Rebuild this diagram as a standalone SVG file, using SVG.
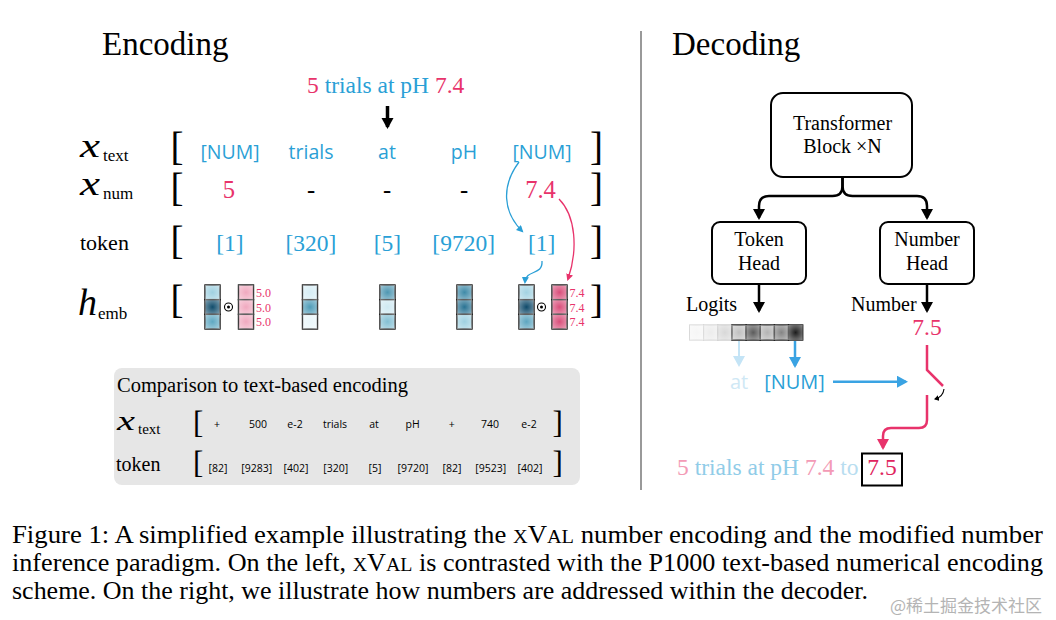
<svg xmlns="http://www.w3.org/2000/svg" width="1056" height="620" viewBox="0 0 1056 620" font-family="'Liberation Serif', 'Times New Roman', serif">
<style>
.f{font-family:"Liberation Serif","Times New Roman",serif}
.s{font-family:"Open Sans","DejaVu Sans",sans-serif}
.b{fill:#2a9fd6}
.p{fill:#e8336b}
.m{font-style:italic;font-family:"Liberation Serif","Times New Roman",serif}
.mid{text-anchor:middle}
.c{stroke:#111;stroke-width:1.4}
.g{fill:url(#gl);stroke:none}
.ln{fill:none}
.br{font-size:39px}
.bs{font-size:31px}
.tk{font-size:19.5px}
.tv{font-size:23.5px}
.xv{font-size:24.6px}
.e{font-size:12px;fill:#e8336b}
.sm{font-size:10.5px}
.box{fill:#fff;stroke:#000;stroke-width:2}
.cap{font-size:25px}
</style>
<defs>
<radialGradient id="gl" cx="0.5" cy="0.5" r="0.7">
<stop offset="0" stop-color="#fff" stop-opacity="0"/>
<stop offset="1" stop-color="#fff" stop-opacity="0.5"/>
</radialGradient>
<marker id="aK" markerUnits="userSpaceOnUse" markerWidth="14" markerHeight="14" refX="9" refY="6" orient="auto"><path d="M0,0 L11,6 L0,12 z" fill="#000"/></marker>
<marker id="aKs" markerUnits="userSpaceOnUse" markerWidth="8" markerHeight="8" refX="4" refY="3" orient="auto"><path d="M0,0 L5,3 L0,6 z" fill="#000"/></marker>
<marker id="aB" markerUnits="userSpaceOnUse" markerWidth="8" markerHeight="8" refX="5" refY="3.5" orient="auto"><path d="M0,0 L7,3.5 L0,7 z" fill="#2a9fd6"/></marker>
<marker id="aP" markerUnits="userSpaceOnUse" markerWidth="8" markerHeight="8" refX="5" refY="3.5" orient="auto"><path d="M0,0 L7,3.5 L0,7 z" fill="#e8336b"/></marker>
<marker id="aBd" markerUnits="userSpaceOnUse" markerWidth="14" markerHeight="14" refX="9" refY="6" orient="auto"><path d="M0,0 L11,6 L0,12 z" fill="#3aa3e3"/></marker>
<marker id="aBl" markerUnits="userSpaceOnUse" markerWidth="14" markerHeight="14" refX="9" refY="6" orient="auto"><path d="M0,0 L11,6 L0,12 z" fill="#c4e4f6"/></marker>
<marker id="aPd" markerUnits="userSpaceOnUse" markerWidth="14" markerHeight="14" refX="9" refY="6" orient="auto"><path d="M0,0 L11,6 L0,12 z" fill="#e8336b"/></marker>
</defs>
<rect width="1056" height="620" fill="#fff"/>

<line x1="641" y1="31" x2="641" y2="490" stroke="#777" stroke-width="1.5"/>

<g id="encoding">
<text x="102" y="55" font-size="33" class="f">Encoding</text>
<text x="307" y="93" font-size="23.5" class="f"><tspan class="p">5</tspan><tspan class="b"> trials at pH </tspan><tspan class="p">7.4</tspan></text>
</g>

<g id="labels">
<text x="80" y="157" class="m" font-size="34" textLength="20" lengthAdjust="spacingAndGlyphs">x</text><text x="103" y="161" font-size="17" class="f">text</text>
<text x="80" y="195" class="m" font-size="34" textLength="20" lengthAdjust="spacingAndGlyphs">x</text><text x="103" y="199" font-size="17" class="f">num</text>
<text x="80" y="250" font-size="22" class="f">token</text>
<text x="78" y="315" class="m" font-size="38">h</text><text x="98" y="319" font-size="17" class="f">emb</text>
</g>

<g id="brackets" class="f">
<text x="170.5" y="160" class="f br">[</text><text x="590" y="160" class="f br">]</text>
<text x="170.5" y="201" class="f br">[</text><text x="590" y="201" class="f br">]</text>
<text x="170.5" y="254" class="f br">[</text><text x="590" y="254" class="f br">]</text>
<text x="170.5" y="313" class="f br">[</text><text x="590" y="313" class="f br">]</text>
</g>

<g id="row-xtext">
<text x="230" y="158.5" class="s tk mid b">[NUM]</text>
<text x="311" y="158.5" class="s tk mid b">trials</text>
<text x="387" y="158.5" class="s tk mid b">at</text>
<text x="464" y="158.5" class="s tk mid b">pH</text>
<text x="542" y="158.5" class="s tk mid b">[NUM]</text>
</g>

<g id="row-xnum">
<text x="229" y="198" class="f xv mid p">5</text>
<text x="311" y="198" class="f xv mid">-</text>
<text x="387" y="198" class="f xv mid">-</text>
<text x="464" y="198" class="f xv mid">-</text>
<text x="540.5" y="198" class="f xv mid p">7.4</text>
</g>

<g id="row-token">
<text x="230" y="251" class="f tv mid b">[1]</text>
<text x="311" y="251" class="f tv mid b">[320]</text>
<text x="387.5" y="251" class="f tv mid b">[5]</text>
<text x="463.7" y="251" class="f tv mid b">[9720]</text>
<text x="541.6" y="251" class="f tv mid b">[1]</text>
</g>

<g id="row-hemb">
<rect x="205" y="285" width="15" height="14.67" fill="#9fd0e0" class="c"/>
<rect x="205" y="299.67" width="15" height="14.67" fill="#114d6c" class="c"/>
<rect x="205" y="314.33" width="15" height="14.67" fill="#5fa8c2" class="c"/>
<rect x="205" y="285" width="15" height="14.67" class="g"/>
<rect x="205" y="299.67" width="15" height="14.67" class="g"/>
<rect x="205" y="314.33" width="15" height="14.67" class="g"/>
<circle cx="228.5" cy="307" r="4" fill="none" stroke="#000" stroke-width="1.1"/><circle cx="228.5" cy="307" r="1.5" fill="#000"/>
<rect x="238.5" y="285" width="15" height="14.67" fill="#f0a9bf" class="c"/>
<rect x="238.5" y="299.67" width="15" height="14.67" fill="#f0a9bf" class="c"/>
<rect x="238.5" y="314.33" width="15" height="14.67" fill="#f0a9bf" class="c"/>
<rect x="238.5" y="285" width="15" height="14.67" class="g"/>
<rect x="238.5" y="299.67" width="15" height="14.67" class="g"/>
<rect x="238.5" y="314.33" width="15" height="14.67" class="g"/>
<text x="256" y="297" class="f e">5.0</text>
<text x="256" y="311.5" class="f e">5.0</text>
<text x="256" y="326" class="f e">5.0</text>

<rect x="302.5" y="285" width="15" height="14.67" fill="#d6edf5" class="c"/>
<rect x="302.5" y="299.67" width="15" height="14.67" fill="#4f9cb8" class="c"/>
<rect x="302.5" y="314.33" width="15" height="14.67" fill="#eaf6fa" class="c"/>
<rect x="302.5" y="285" width="15" height="14.67" class="g"/>
<rect x="302.5" y="299.67" width="15" height="14.67" class="g"/>
<rect x="302.5" y="314.33" width="15" height="14.67" class="g"/>

<rect x="380" y="285" width="15" height="14.67" fill="#4f97b2" class="c"/>
<rect x="380" y="299.67" width="15" height="14.67" fill="#cfe9f2" class="c"/>
<rect x="380" y="314.33" width="15" height="14.67" fill="#84c0d4" class="c"/>
<rect x="380" y="285" width="15" height="14.67" class="g"/>
<rect x="380" y="299.67" width="15" height="14.67" class="g"/>
<rect x="380" y="314.33" width="15" height="14.67" class="g"/>

<rect x="457" y="285" width="15" height="14.67" fill="#3f8aa8" class="c"/>
<rect x="457" y="299.67" width="15" height="14.67" fill="#2a7393" class="c"/>
<rect x="457" y="314.33" width="15" height="14.67" fill="#9fd1e1" class="c"/>
<rect x="457" y="285" width="15" height="14.67" class="g"/>
<rect x="457" y="299.67" width="15" height="14.67" class="g"/>
<rect x="457" y="314.33" width="15" height="14.67" class="g"/>

<rect x="519" y="285" width="15" height="14.67" fill="#a3d3e2" class="c"/>
<rect x="519" y="299.67" width="15" height="14.67" fill="#0f4a6a" class="c"/>
<rect x="519" y="314.33" width="15" height="14.67" fill="#5ea6c0" class="c"/>
<rect x="519" y="285" width="15" height="14.67" class="g"/>
<rect x="519" y="299.67" width="15" height="14.67" class="g"/>
<rect x="519" y="314.33" width="15" height="14.67" class="g"/>
<circle cx="541.5" cy="307" r="4" fill="none" stroke="#000" stroke-width="1.1"/><circle cx="541.5" cy="307" r="1.5" fill="#000"/>
<rect x="552" y="285" width="15" height="14.67" fill="#d94f7b" class="c"/>
<rect x="552" y="299.67" width="15" height="14.67" fill="#d94f7b" class="c"/>
<rect x="552" y="314.33" width="15" height="14.67" fill="#d94f7b" class="c"/>
<rect x="552" y="285" width="15" height="14.67" class="g"/>
<rect x="552" y="299.67" width="15" height="14.67" class="g"/>
<rect x="552" y="314.33" width="15" height="14.67" class="g"/>
<text x="569.5" y="297" class="f e">7.4</text>
<text x="569.5" y="311.5" class="f e">7.4</text>
<text x="569.5" y="326" class="f e">7.4</text>
</g>

<g id="comparison">
<rect x="114" y="368" width="466" height="117" rx="8" fill="#e6e6e6"/>
<text x="117" y="392" font-size="20.5" class="f">Comparison to text-based encoding</text>
<text x="117" y="430" class="m" font-size="28" textLength="18" lengthAdjust="spacingAndGlyphs">x</text><text x="138" y="434" font-size="15" class="f">text</text>
<text x="116" y="471" font-size="20" class="f">token</text>
<text x="193" y="433" class="f bs">[</text><text x="552.5" y="433" class="f bs">]</text>
<text x="193" y="473" class="f bs">[</text><text x="552.5" y="473" class="f bs">]</text>
<g>
<text x="217" y="428" class="s sm mid">+</text>
<text x="258" y="428" class="s sm mid">500</text>
<text x="295" y="428" class="s sm mid">e-2</text>
<text x="335" y="428" class="s sm mid">trials</text>
<text x="374" y="428" class="s sm mid">at</text>
<text x="412.7" y="428" class="s sm mid">pH</text>
<text x="451.7" y="428" class="s sm mid">+</text>
<text x="490" y="428" class="s sm mid">740</text>
<text x="529" y="428" class="s sm mid">e-2</text>
<text x="218" y="472" class="s sm mid">[82]</text>
<text x="256.7" y="472" class="s sm mid">[9283]</text>
<text x="296" y="472" class="s sm mid">[402]</text>
<text x="335.7" y="472" class="s sm mid">[320]</text>
<text x="375" y="472" class="s sm mid">[5]</text>
<text x="413" y="472" class="s sm mid">[9720]</text>
<text x="452" y="472" class="s sm mid">[82]</text>
<text x="490.7" y="472" class="s sm mid">[9523]</text>
<text x="530" y="472" class="s sm mid">[402]</text>
</g>
</g>

<g id="decoding-title"><text x="672" y="55" font-size="33" class="f">Decoding</text></g>

<g id="transformer">
<rect x="771" y="93" width="141" height="84" rx="12" class="box"/>
<text x="842.5" y="129.5" font-size="20" class="f mid">Transformer</text>
<text x="842.5" y="153" font-size="20" class="f mid">Block ×N</text>
</g>
<g id="token-head">
<rect x="712" y="222" width="94" height="62" rx="8" class="box"/>
<text x="759" y="246" font-size="20" class="f mid">Token</text>
<text x="759" y="270" font-size="20" class="f mid">Head</text>
</g>
<g id="number-head">
<rect x="880" y="222" width="94" height="62" rx="8" class="box"/>
<text x="927" y="246" font-size="20" class="f mid">Number</text>
<text x="927" y="270" font-size="20" class="f mid">Head</text>
</g>

<g id="logits">
<text x="686" y="311" font-size="20" class="f">Logits</text>
<rect x="689.5" y="325" width="14.15" height="15" fill="#f6f6f6" stroke="#d0d0d0" stroke-width="1"/>
<rect x="703.65" y="325" width="14.15" height="15" fill="#ececec" stroke="#c8c8c8" stroke-width="1"/>
<rect x="717.8" y="325" width="14.15" height="15" fill="#d8d8d8" stroke="#b8b8b8" stroke-width="1"/>
<rect x="731.95" y="325" width="14.15" height="15" fill="#c0c0c0" class="c"/>
<rect x="746.1" y="325" width="14.15" height="15" fill="#5c5c5c" class="c"/>
<rect x="760.25" y="325" width="14.15" height="15" fill="#b3b3b3" class="c"/>
<rect x="774.4" y="325" width="14.15" height="15" fill="#858585" class="c"/>
<rect x="788.55" y="325" width="14.15" height="15" fill="#1c1c1c" class="c"/>
<rect x="689.5" y="325" width="14.15" height="15" class="g"/>
<rect x="703.65" y="325" width="14.15" height="15" class="g"/>
<rect x="717.8" y="325" width="14.15" height="15" class="g"/>
<rect x="731.95" y="325" width="14.15" height="15" class="g"/>
<rect x="746.1" y="325" width="14.15" height="15" class="g"/>
<rect x="760.25" y="325" width="14.15" height="15" class="g"/>
<rect x="774.4" y="325" width="14.15" height="15" class="g"/>
<rect x="788.55" y="325" width="14.15" height="15" class="g"/>
</g>

<g id="number-out">
<text x="851" y="311" font-size="20" class="f">Number</text>
<text x="927" y="335" font-size="23.5" class="f mid p">7.5</text>
</g>

<g id="token-out">
<text x="739" y="388.5" class="s mid" font-size="20" fill="#cfe8f5">at</text>
<text x="794.5" y="388.5" class="s mid b" font-size="20">[NUM]</text>
</g>

<g id="result">
<text x="677" y="475" font-size="23.5" class="f"><tspan fill="#f39bb6">5</tspan><tspan fill="#90cce8"> trials at pH </tspan><tspan fill="#f39bb6">7.4</tspan><tspan fill="#b8ddf0"> to</tspan></text>
<rect x="862" y="453.5" width="40" height="32" fill="none" stroke="#000" stroke-width="2"/>
<text x="882" y="475" font-size="23.5" class="f mid" fill="#e0245e">7.5</text>
</g>

<g id="connectors" class="ln">
<path d="M387.5,106 V127" stroke="#000" stroke-width="3.5" marker-end="url(#aK)"/>
<path d="M519,162 C501,186 503,212 522,231" stroke="#2a9fd6" stroke-width="1.3" marker-end="url(#aB)"/>
<path d="M559,199 C576,216 578,250 568,279" stroke="#e8336b" stroke-width="1.3" marker-end="url(#aP)"/>
<path d="M542,261 C543,276 526,269 525,282" stroke="#2a9fd6" stroke-width="1.3" marker-end="url(#aB)"/>
<path d="M842.5,177 V186 Q842.5,196 832.5,196 H769 Q759,196 759,206 V218" stroke="#000" stroke-width="2.5" marker-end="url(#aK)"/>
<path d="M842.5,177 V186 Q842.5,196 852.5,196 H917 Q927,196 927,206 V218" stroke="#000" stroke-width="2.5" marker-end="url(#aK)"/>
<path d="M759,284 V311" stroke="#000" stroke-width="2.5" marker-end="url(#aK)"/>
<path d="M927,284 V311" stroke="#000" stroke-width="2.5" marker-end="url(#aK)"/>
<path d="M739,341 V365" stroke="#c4e4f6" stroke-width="2" marker-end="url(#aBl)"/>
<path d="M795,341 V366" stroke="#3aa3e3" stroke-width="2.5" marker-end="url(#aBd)"/>
<path d="M833,381.7 H906" stroke="#3aa3e3" stroke-width="2.5" marker-end="url(#aBd)"/>
<path d="M927,345 V370 L943,386" stroke="#e8336b" stroke-width="2.5"/>
<path d="M927,395 V420 Q927,428 919,428 H891 Q883,428 883,436 V448" stroke="#e8336b" stroke-width="2.5" marker-end="url(#aPd)"/>
<path d="M944,389 Q943,397 935,399" stroke="#000" stroke-width="1.1" marker-end="url(#aKs)"/>
</g>

<g id="caption">
<text x="12" y="543" class="f cap" textLength="1031" lengthAdjust="spacingAndGlyphs">Figure 1:  A simplified example illustrating the <tspan font-size="19">X</tspan>V<tspan font-size="19">AL</tspan> number encoding and the modified number</text>
<text x="12" y="571" class="f cap" textLength="1031" lengthAdjust="spacingAndGlyphs">inference paradigm. On the left, <tspan font-size="19">X</tspan>V<tspan font-size="19">AL</tspan> is contrasted with the P1000 text-based numerical encoding</text>
<text x="12" y="599" class="f cap" textLength="856" lengthAdjust="spacingAndGlyphs">scheme. On the right, we illustrate how numbers are addressed within the decoder.</text>
<text x="890" y="612" font-size="17" fill="#b4b4b4" font-family="'Noto Sans CJK SC', 'Noto Sans', sans-serif">@稀土掘金技术社区</text>
</g>
</svg>
